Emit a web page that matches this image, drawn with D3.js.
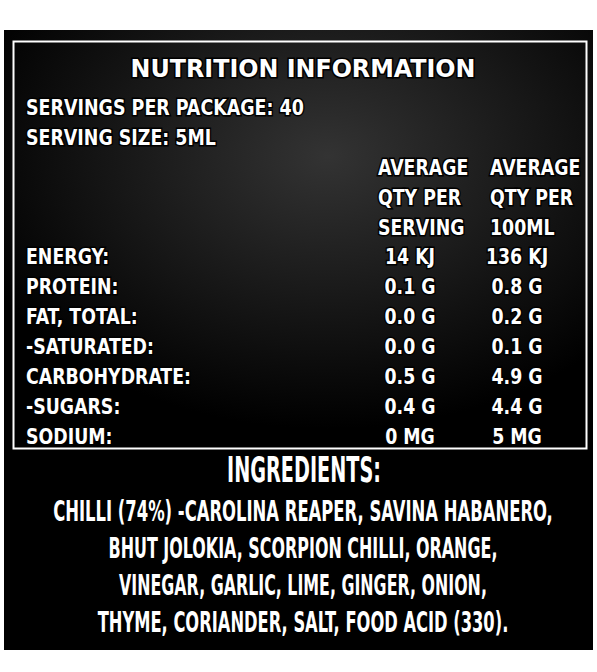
<!DOCTYPE html>
<html><head><meta charset="utf-8">
<script src="https://cdn.jsdelivr.net/npm/d3@7"></script>
<style>body{margin:0;background:#fff}</style></head>
<body><script>
const servingInfo = ["SERVINGS PER PACKAGE: 40", "SERVING SIZE: 5ML"];
const headers = [["AVERAGE", "QTY PER", "SERVING"], ["AVERAGE", "QTY PER", "100ML"]];
const nutrients = ["ENERGY:", "PROTEIN:", "FAT, TOTAL:", "-SATURATED:", "CARBOHYDRATE:", "-SUGARS:", "SODIUM:"];
const perServing = ["14 KJ", "0.1 G", "0.0 G", "0.0 G", "0.5 G", "0.4 G", "0 MG"];
const per100 = ["136 KJ", "0.8 G", "0.2 G", "0.1 G", "4.9 G", "4.4 G", "5 MG"];
const ingredients = [
  "CHILLI (74%) -CAROLINA REAPER, SAVINA HABANERO,",
  "BHUT JOLOKIA, SCORPION CHILLI, ORANGE,",
  "VINEGAR, GARLIC, LIME, GINGER, ONION,",
  "THYME, CORIANDER, SALT, FOOD ACID (330)."
];
const ingredientWidths = [500, 389, 368, 411];
const W = 597, H = 672;
const FONT = "'DejaVu Sans Condensed','DejaVu Sans',sans-serif";
const svg = d3.select("body").append("svg").attr("width", W).attr("height", H);
const defs = svg.append("defs");
const rg = defs.append("radialGradient").attr("id", "smoke").attr("cx", "55%").attr("cy", "30%").attr("r", "65%");
rg.append("stop").attr("offset", "0%").attr("stop-color", "#333");
rg.append("stop").attr("offset", "100%").attr("stop-color", "#000");
svg.append("rect").attr("x", 4).attr("y", 30).attr("width", 589).attr("height", 620).attr("fill", "#000");
svg.append("rect").attr("x", 4).attr("y", 30).attr("width", 589).attr("height", 420).attr("fill", "url(#smoke)");
svg.append("rect").attr("x", 13.5).attr("y", 41.5).attr("width", 573).attr("height", 407)
  .attr("fill", "none").attr("stroke", "#fff").attr("stroke-width", 2);

// k: horizontal squeeze, or an exact target width
function txt(x, y, s, size, anchor = "start", k = 0.92, width = null) {
  const g = svg.append("g");
  const t = g.append("text").attr("x", 0).attr("y", 0).text(s)
    .attr("font-family", FONT).attr("font-weight", "bold").attr("font-size", size)
    .attr("fill", "#fff").attr("text-anchor", anchor).attr("dominant-baseline", "central")
    .attr("stroke", "#000").attr("stroke-width", 3).attr("paint-order", "stroke");
  const nat = t.node().getComputedTextLength();
  const sx = width ? width / nat : k;
  g.attr("transform", `translate(${x},${y}) scale(${sx},1)`);
  return t;
}
const row = d3.scaleLinear().domain([0, 1]).range([257, 287]);
txt(303, 68, "NUTRITION INFORMATION", 25, "middle", 1, 345);
txt(26, 108, servingInfo[0], 21, "start", 1, 278);
txt(26, 138, servingInfo[1], 21, "start", 1, 190);
headers.forEach((h, c) => h.forEach((s, i) => txt(c ? 490 : 378, 168 + i * 30, s, 21)));
nutrients.forEach((s, i) => {
  txt(26, row(i), s, 21);
  txt(410, row(i), perServing[i], 21, "middle");
  txt(517, row(i), per100[i], 21, "middle");
});
txt(304, 470, "INGREDIENTS:", 36, "middle", 1, 154);
ingredients.forEach((s, i) => txt(303, 511 + i * 37.3, s, 29, "middle", 1, ingredientWidths[i]));
</script></body></html>
